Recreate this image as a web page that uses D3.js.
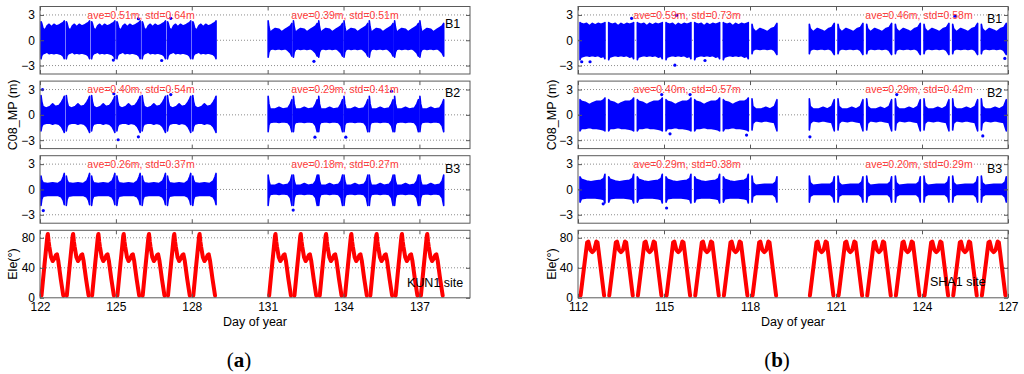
<!DOCTYPE html>
<html>
<head>
<meta charset="utf-8">
<script src="https://cdn.jsdelivr.net/npm/d3@7/dist/d3.min.js"></script>
<style>
  body { margin: 0; background: #fff; }
  svg { display: block; font-family: "Liberation Sans", Arial, sans-serif; }
</style>
</head>
<body>
<svg id="chart" width="1024" height="374"></svg>
<script>
// ---- data ----
const ticksA = [122, 125, 128, 131, 134, 137];
const ticksB = [112, 115, 118, 121, 124, 127];
const mpTicks = [-3, 0, 3];
const eleTicks = [0, 40, 80];
const bandNames = ['B1', 'B2', 'B3'];

// tracked days, split by the two multipath regimes seen in each panel
const daysA1 = [122, 123, 124, 125, 126, 127, 128];
const daysA2 = [131, 132, 133, 134, 135, 136, 137];
const daysB1 = [112, 113, 114, 115, 116, 117];
const daysB2 = [118, 120, 121, 122, 123, 124, 125, 126];

const statsA1 = ['ave=0.51m, std=0.64m', 'ave=0.40m, std=0.54m', 'ave=0.26m, std=0.37m'];
const statsA2 = ['ave=0.39m, std=0.51m', 'ave=0.29m, std=0.41m', 'ave=0.18m, std=0.27m'];
const statsB1 = ['ave=0.59m, std=0.73m', 'ave=0.40m, std=0.57m', 'ave=0.29m, std=0.38m'];
const statsB2 = ['ave=0.46m, std=0.58m', 'ave=0.29m, std=0.42m', 'ave=0.20m, std=0.29m'];

// daily elevation track of C08: [time of day, elevation deg]
const eleDayA = [[0.06, 3], [0.18, 45], [0.29, 82], [0.31, 85], [0.34, 75], [0.37, 68], [0.44, 54],
  [0.50, 49], [0.56, 52], [0.63, 57], [0.67, 58], [0.72, 50], [0.82, 25], [0.92, 3]];
const eleDayB = [[0.09, 3], [0.28, 62], [0.32, 74], [0.36, 75], [0.43, 64], [0.50, 61], [0.57, 64],
  [0.64, 75], [0.68, 74], [0.72, 62], [0.91, 3]];

// multipath scatter envelope per day: [time of day, low m, high m]
const mpA1_B1 = [[0.04, -2.2, 2.2], [0.07, -1.8, 2.0], [0.12, -1.6, 1.4], [0.2, -1.5, 1.2], [0.28, -1.4, 1.7],
  [0.36, -1.6, 1.9], [0.45, -1.5, 1.6], [0.55, -1.6, 1.9], [0.65, -1.5, 1.7], [0.75, -1.6, 1.8],
  [0.85, -1.7, 2.0], [0.92, -1.9, 2.1], [0.96, -2.2, 2.3]];
const mpA1_B2 = [[0.04, -1.9, 2.3], [0.07, -1.4, 1.6], [0.12, -1.1, 1.0], [0.25, -1.0, 0.8], [0.4, -1.0, 1.0],
  [0.5, -1.1, 1.3], [0.6, -1.0, 1.0], [0.75, -1.1, 1.1], [0.85, -1.4, 1.5], [0.92, -1.8, 1.9], [0.96, -2.1, 2.2]];
const mpA1_B3 = [[0.04, -1.9, 1.6], [0.07, -1.2, 1.1], [0.12, -0.8, 0.8], [0.3, -0.7, 0.7], [0.5, -0.7, 0.8],
  [0.7, -0.7, 0.7], [0.85, -0.9, 1.0], [0.92, -1.3, 1.5], [0.96, -1.8, 1.9]];
const mpA2_B1 = [[0.02, -2.0, 2.3], [0.05, -1.4, 1.6], [0.1, -1.1, 0.9], [0.2, -1.0, 1.2], [0.3, -1.1, 1.4],
  [0.45, -1.0, 1.3], [0.55, -1.1, 1.0], [0.7, -1.0, 1.3], [0.8, -1.2, 1.5], [0.9, -1.5, 1.7], [0.96, -1.9, 2.0]];
const mpA2_B2 = [[0.02, -2.0, 2.2], [0.05, -1.2, 1.3], [0.1, -0.9, 0.7], [0.3, -0.8, 0.7], [0.45, -0.9, 0.9],
  [0.6, -0.8, 0.7], [0.8, -0.9, 0.8], [0.9, -1.3, 1.3], [0.96, -2.0, 1.8]];
const mpA2_B3 = [[0.02, -1.9, 1.7], [0.05, -1.0, 1.0], [0.1, -0.6, 0.5], [0.3, -0.5, 0.5], [0.45, -0.6, 0.7],
  [0.6, -0.5, 0.5], [0.8, -0.6, 0.6], [0.9, -1.0, 1.0], [0.96, -1.9, 1.7]];
const mpB1_B1 = [[0.07, -2.3, 2.1], [0.1, -2.0, 2.0], [0.2, -1.9, 1.9], [0.3, -1.8, 2.0], [0.4, -1.9, 1.7],
  [0.5, -1.8, 2.0], [0.6, -1.9, 1.8], [0.7, -1.8, 2.0], [0.8, -2.0, 1.9], [0.9, -1.9, 2.0], [0.94, -2.2, 2.1]];
const mpB1_B2 = [[0.07, -1.9, 1.8], [0.12, -1.6, 1.6], [0.25, -1.6, 1.5], [0.4, -1.5, 1.2], [0.5, -1.6, 1.4],
  [0.65, -1.6, 1.6], [0.8, -1.7, 1.6], [0.9, -1.8, 1.8], [0.94, -1.9, 2.0]];
const mpB1_B3 = [[0.07, -1.5, 1.5], [0.12, -1.1, 1.2], [0.3, -1.0, 1.0], [0.45, -1.0, 0.9], [0.6, -1.0, 1.0],
  [0.8, -1.1, 1.1], [0.9, -1.2, 1.3], [0.94, -1.6, 1.8]];
const mpB2_B1 = [[0.07, -1.6, 1.9], [0.1, -1.2, 1.4], [0.2, -1.0, 1.0], [0.35, -1.1, 1.4], [0.5, -1.0, 1.2],
  [0.6, -1.1, 1.0], [0.75, -1.0, 1.4], [0.85, -1.2, 1.5], [0.94, -1.7, 2.0]];
const mpB2_B2 = [[0.07, -1.8, 1.9], [0.1, -1.0, 1.0], [0.2, -0.7, 0.7], [0.4, -0.8, 0.7], [0.55, -0.7, 0.9],
  [0.7, -0.8, 0.7], [0.85, -0.9, 1.0], [0.94, -1.9, 1.8]];
const mpB2_B3 = [[0.07, -1.5, 1.6], [0.1, -0.8, 0.8], [0.2, -0.6, 0.5], [0.5, -0.6, 0.6], [0.8, -0.6, 0.6],
  [0.9, -0.9, 0.9], [0.94, -1.5, 1.5]];

// isolated points outside the envelopes: [day, m]
const outA_B1 = [[124.9, -2.35], [126.81, -2.4], [125.89, 2.55], [127.17, 2.6], [132.83, -2.5]];
const outA_B2 = [[122.1, 3.0], [125.09, -2.95], [125.89, -2.6], [124.92, 2.5], [127.17, 2.4],
  [132.87, -2.65], [134.09, -2.65], [135.9, 2.8]];
const outA_B3 = [[122.13, -2.5], [132.01, -2.45]];
const outB_B1 = [[112.13, -2.55], [112.42, -2.55], [115.38, -2.95], [115.44, 2.95], [113.87, 2.6],
  [116.43, -2.4], [126.89, -2.15], [125.15, 2.85]];
const outB_B2 = [[115.21, -2.25], [117.88, -2.4], [115.91, 2.4], [114.92, 2.4], [120.09, -2.6],
  [123.12, 2.4], [126.12, -2.5]];
const outB_B3 = [[115.09, -2.2], [112.88, -1.7]];

// ---- layout ----
const ROW_TOP = 6.5, ROW_STEP = 74.6, ROW_H = 67.5;
const FRAME = '#5a5a5a';
const BLUE = '#0000ff';
const RED = '#ff0000';

const svg = d3.select('#chart');

const panels = [
  {
    domain: [122, 139], range: [40, 470], ticks: ticksA, letter: 'a', letterX: 239,
    ylabelX: 13, site: 'KUN1 site', siteX: 407, siteY: 287,
    statX: [141, 345], labelX: 445, labelDy: [21.5, 15.5, 17],
    eleDay: eleDayA, eleDays: daysA1.concat(daysA2),
    rows: [
      { groups: [[daysA1, mpA1_B1], [daysA2, mpA2_B1]], stats: [statsA1[0], statsA2[0]], out: outA_B1 },
      { groups: [[daysA1, mpA1_B2], [daysA2, mpA2_B2]], stats: [statsA1[1], statsA2[1]], out: outA_B2 },
      { groups: [[daysA1, mpA1_B3], [daysA2, mpA2_B3]], stats: [statsA1[2], statsA2[2]], out: outA_B3 }
    ]
  },
  {
    domain: [112, 127], range: [578, 1008], ticks: ticksB, letter: 'b', letterX: 777,
    ylabelX: 552, site: 'SHA1 site', siteX: 930, siteY: 286,
    statX: [687, 919], labelX: 987, labelDy: [16, 15.5, 17],
    eleDay: eleDayB, eleDays: daysB1.concat(daysB2),
    rows: [
      { groups: [[daysB1, mpB1_B1], [daysB2, mpB2_B1]], stats: [statsB1[0], statsB2[0]], out: outB_B1 },
      { groups: [[daysB1, mpB1_B2], [daysB2, mpB2_B2]], stats: [statsB1[1], statsB2[1]], out: outB_B2 },
      { groups: [[daysB1, mpB1_B3], [daysB2, mpB2_B3]], stats: [statsB1[2], statsB2[2]], out: outB_B3 }
    ]
  }
];

function styleAxis(sel) {
  sel.select('.domain').remove();
  sel.selectAll('line').attr('stroke', FRAME);
  sel.selectAll('text').attr('font-size', 12).attr('fill', '#000')
    .attr('font-family', '"Liberation Sans", Arial, sans-serif');
}

// frame, dotted grid and inward ticks on all four sides, MATLAB box style
function drawFrame(g, x, y, yTicks, top, withXLabels) {
  const [x0, x1] = x.range();
  g.append('g').selectAll('line').data(yTicks.filter((t) => y(t) > top + 1 && y(t) < top + ROW_H - 1))
    .join('line')
    .attr('x1', x0).attr('x2', x1)
    .attr('y1', (d) => y(d)).attr('y2', (d) => y(d))
    .attr('stroke', '#8c8c8c').attr('stroke-dasharray', '1,2');

  return () => {
    g.append('g').attr('transform', `translate(${x0},0)`)
      .call(d3.axisLeft(y).tickValues(yTicks).tickSize(-4).tickPadding(5)).call(styleAxis);
    g.append('g').attr('transform', `translate(${x1},0)`)
      .call(d3.axisRight(y).tickValues(yTicks).tickSize(-4).tickFormat('')).call(styleAxis);
    g.append('g').attr('transform', `translate(0,${top})`)
      .call(d3.axisTop(x).tickValues(x.ticksList).tickSize(-4).tickFormat('')).call(styleAxis);
    g.append('g').attr('transform', `translate(0,${top + ROW_H})`)
      .call(d3.axisBottom(x).tickValues(x.ticksList).tickSize(-4).tickPadding(5)
        .tickFormat(withXLabels ? d3.format('d') : ''))
      .call(styleAxis);
    g.append('rect')
      .attr('x', x0).attr('y', top).attr('width', x1 - x0).attr('height', ROW_H)
      .attr('fill', 'none').attr('stroke', FRAME).attr('stroke-width', 1);
  };
}

panels.forEach((p) => {
  const x = d3.scaleLinear().domain(p.domain).range(p.range);
  x.ticksList = p.ticks;
  const g = svg.append('g');

  // multipath rows
  p.rows.forEach((row, i) => {
    const top = ROW_TOP + i * ROW_STEP;
    const y = d3.scaleLinear().domain([-4, 4]).range([top + ROW_H, top]);
    const rg = g.append('g');
    const finish = drawFrame(rg, x, y, mpTicks, top, false);

    const blocks = [];
    row.groups.forEach(([days, shape]) => {
      days.forEach((day) => blocks.push(shape.map((s) => [day + s[0], s[1], s[2]])));
    });
    const area = d3.area().x((d) => x(d[0])).y0((d) => y(d[1])).y1((d) => y(d[2]));
    rg.append('g').selectAll('path').data(blocks).join('path')
      .attr('d', area)
      .attr('fill', BLUE).attr('stroke', BLUE)
      .attr('stroke-width', 1.6).attr('stroke-linejoin', 'round');
    rg.append('g').selectAll('circle').data(row.out).join('circle')
      .attr('cx', (d) => x(d[0])).attr('cy', (d) => y(d[1])).attr('r', 1.6).attr('fill', BLUE);

    rg.selectAll('text.stat').data(row.stats).join('text')
      .attr('class', 'stat')
      .attr('x', (d, j) => p.statX[j]).attr('y', y(3) + 3.8)
      .attr('text-anchor', 'middle').attr('font-size', 10.5).attr('fill', '#ff4040')
      .text((d) => d);
    rg.append('text')
      .attr('x', p.labelX).attr('y', top + p.labelDy[i])
      .attr('font-size', 12.5).attr('fill', '#000')
      .text(bandNames[i]);
    finish();
  });

  // elevation row
  const top = ROW_TOP + 3 * ROW_STEP;
  const yE = d3.scaleLinear().domain([0, 90]).range([top + ROW_H, top]);
  const eg = g.append('g');
  const finishE = drawFrame(eg, x, yE, eleTicks, top, true);
  const line = d3.line().x((d) => x(d[0])).y((d) => yE(d[1]));
  eg.append('g').selectAll('path').data(p.eleDays.map((day) => p.eleDay.map((s) => [day + s[0], s[1]])))
    .join('path')
    .attr('d', line)
    .attr('fill', 'none').attr('stroke', RED).attr('stroke-width', 4)
    .attr('stroke-linejoin', 'round').attr('stroke-linecap', 'round');
  eg.append('text')
    .attr('x', p.siteX).attr('y', p.siteY)
    .attr('font-size', 12.5).attr('fill', '#000')
    .text(p.site);
  finishE();

  // axis titles
  const [x0, x1] = p.range;
  g.append('text')
    .attr('transform', `translate(${p.ylabelX},${ROW_TOP + ROW_STEP + ROW_H / 2}) rotate(-90)`)
    .attr('text-anchor', 'middle').attr('dy', '0.35em').attr('font-size', 12.5)
    .text('C08_MP (m)');
  g.append('text')
    .attr('transform', `translate(${p.ylabelX},${top + ROW_H / 2}) rotate(-90)`)
    .attr('text-anchor', 'middle').attr('dy', '0.35em').attr('font-size', 12.5)
    .text('Ele(°)');
  g.append('text')
    .attr('x', (x0 + x1) / 2).attr('y', 326)
    .attr('text-anchor', 'middle').attr('font-size', 12.5)
    .text('Day of year');

  const lab = g.append('text')
    .attr('x', p.letterX).attr('y', 367)
    .attr('text-anchor', 'middle')
    .attr('font-family', '"Liberation Serif", "DejaVu Serif", serif')
    .attr('font-size', 21);
  lab.append('tspan').text('(');
  lab.append('tspan').attr('font-weight', 'bold').text(p.letter);
  lab.append('tspan').text(')');
});
</script>
</body>
</html>
